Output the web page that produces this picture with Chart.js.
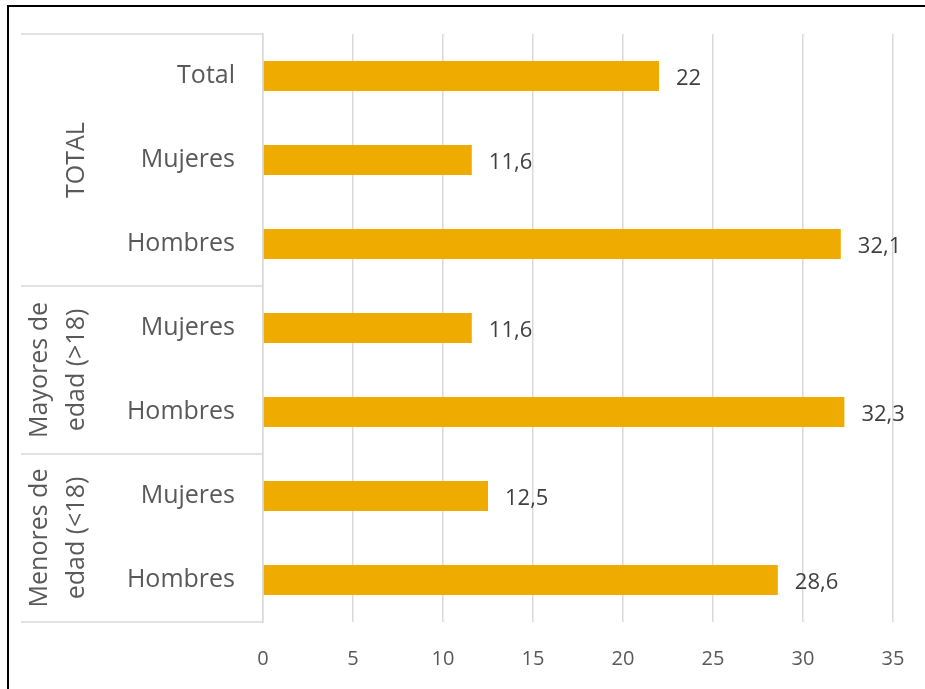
<!DOCTYPE html>
<html>
<head>
<meta charset="utf-8">
<script src="https://cdn.jsdelivr.net/npm/chart.js@4"></script>
<style>
  html, body { margin: 0; padding: 0; background: #fff; }
  .frame {
    position: absolute; left: 7px; top: 5px; right: 0; bottom: 0;
    border-left: 2px solid #000; border-top: 2px solid #000;
  }
  .wrap { position: absolute; left: 0; top: 0; width: 925px; height: 689px; }
</style>
</head>
<body>
<div class="frame"></div>
<div class="wrap"><canvas id="chart" width="925" height="689"></canvas></div>
<script>
// Sub-categories, one bar each (top to bottom)
const labels = ['Total', 'Mujeres', 'Hombres', 'Mujeres', 'Hombres', 'Mujeres', 'Hombres']
const values = [22, 11.6, 32.1, 11.6, 32.3, 12.5, 28.6]

// Outer groups: text lines and the range of bars they cover
const groupLines = [['TOTAL'], ['Mayores de', 'edad (>18)'], ['Menores de', 'edad (<18)']]
const groupStart = [0, 3, 5]
const groupEnd = [2, 4, 6]

const xMin = 0
const xMax = 35
const xStep = 5

const FONT = '"Open Sans", "Noto Sans", sans-serif'
const LINE = '#d9d9d9'

// Value labels past the end of each bar, decimal comma
const valueLabels = {
  id: 'valueLabels',
  afterDatasetsDraw(chart) {
    const ctx = chart.ctx
    const meta = chart.getDatasetMeta(0)
    ctx.save()
    ctx.font = '22px ' + FONT
    ctx.fillStyle = '#404040'
    ctx.textAlign = 'left'
    ctx.textBaseline = 'middle'
    meta.data.forEach((bar, i) => {
      ctx.fillText(String(values[i]).replace('.', ','), bar.x + 17, bar.y + 3)
    })
    ctx.restore()
  }
}

// Group separators and rotated group names on the left
const groupAxis = {
  id: 'groupAxis',
  afterDraw(chart) {
    const ctx = chart.ctx
    const y = chart.scales.y
    const area = chart.chartArea
    const left = 21
    const half = (y.getPixelForValue(1) - y.getPixelForValue(0)) / 2

    ctx.save()
    ctx.strokeStyle = LINE
    ctx.lineWidth = 1.5
    const edges = [area.top]
    groupEnd.forEach(e => edges.push(y.getPixelForValue(e) + half))
    edges.forEach(py => {
      ctx.beginPath()
      ctx.moveTo(left, py)
      ctx.lineTo(area.left, py)
      ctx.stroke()
    })

    ctx.font = '25px ' + FONT
    ctx.fillStyle = '#595959'
    ctx.textAlign = 'center'
    ctx.textBaseline = 'middle'
    groupLines.forEach((lines, g) => {
      const cy = (y.getPixelForValue(groupStart[g]) + y.getPixelForValue(groupEnd[g])) / 2
      lines.forEach((txt, k) => {
        const cx = 77 - (lines.length - 1 - k) * 37
        ctx.save()
        ctx.translate(cx, cy)
        ctx.rotate(-Math.PI / 2)
        ctx.fillText(txt, 0, 0)
        ctx.restore()
      })
    })
    ctx.restore()
  }
}

new Chart(document.getElementById('chart'), {
  type: 'bar',
  data: {
    labels: labels,
    datasets: [{
      data: values,
      backgroundColor: '#f0ab00',
      borderWidth: 0,
      categoryPercentage: 1,
      barPercentage: 0.36
    }]
  },
  options: {
    indexAxis: 'y',
    responsive: false,
    animation: false,
    layout: { padding: { left: 0, top: 34, right: 32, bottom: 0 } },
    plugins: { legend: { display: false }, tooltip: { enabled: false } },
    scales: {
      x: {
        min: xMin,
        max: xMax,
        afterFit(scale) {
          scale.height = 67
          scale.paddingLeft = 0
          scale.paddingRight = 0
        },
        ticks: { stepSize: xStep, color: '#595959', font: { family: FONT, size: 20 }, padding: 25 },
        grid: { color: LINE, lineWidth: 1.5, drawTicks: false },
        border: { display: false }
      },
      y: {
        afterFit(scale) {
          scale.width = 263
          scale.paddingTop = 0
          scale.paddingBottom = 0
        },
        ticks: { color: '#595959', font: { family: FONT, size: 25 }, padding: 28 },
        grid: { display: false, drawTicks: false },
        border: { display: true, color: LINE, width: 1.5 }
      }
    }
  },
  plugins: [valueLabels, groupAxis]
})
</script>
</body>
</html>
